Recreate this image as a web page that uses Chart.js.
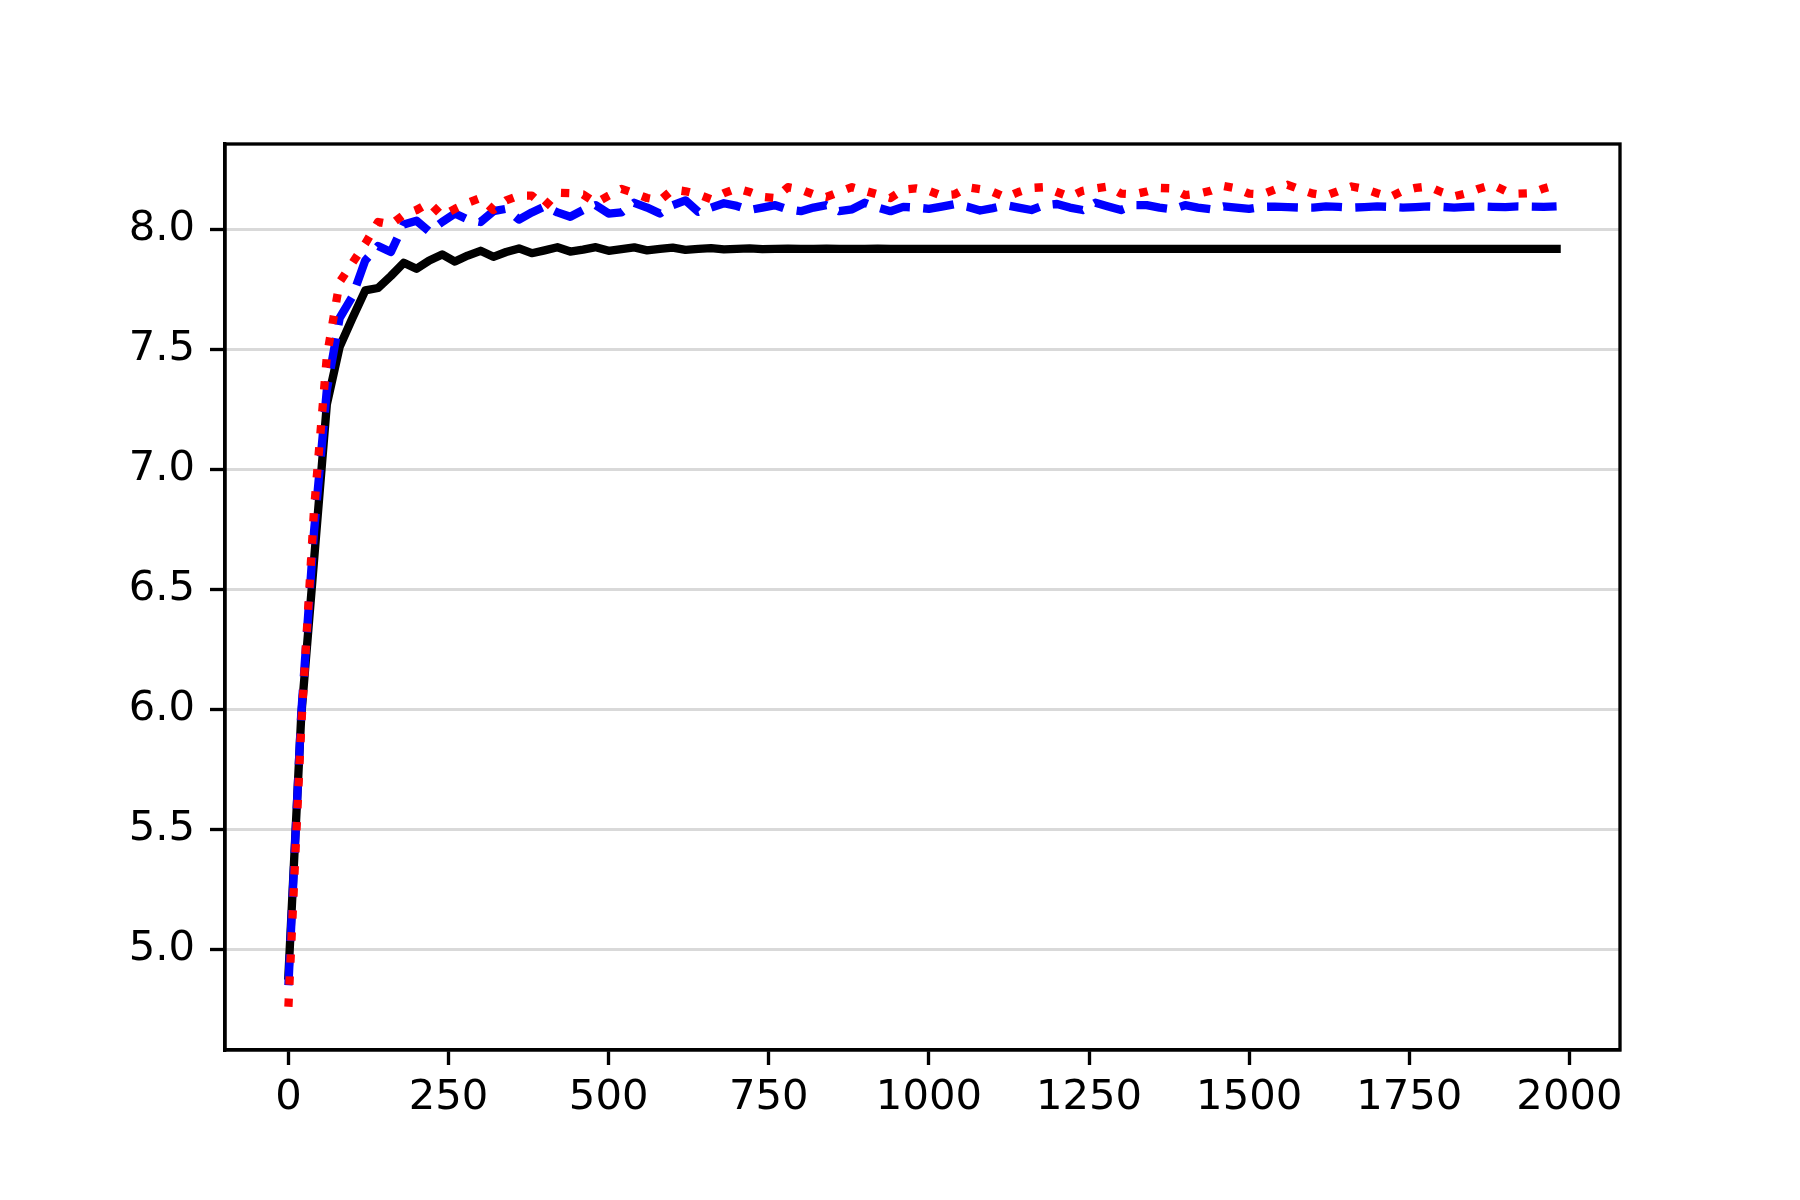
<!DOCTYPE html>
<html>
<head>
<meta charset="utf-8">
<title>chart</title>
<script src="https://cdn.jsdelivr.net/npm/chart.js@4.4.1/dist/chart.umd.min.js"></script>
<style>
  html, body { margin: 0; padding: 0; background: #fff; }
  #chart { display: block; }
</style>
</head>
<body>
<canvas id="chart" width="1800" height="1200"></canvas>
<script>
const steps = [
    0, 20, 40, 60, 80, 100, 120, 140, 160, 180,
    200, 220, 240, 260, 280, 300, 320, 340, 360, 380,
    400, 420, 440, 460, 480, 500, 520, 540, 560, 580,
    600, 620, 640, 660, 680, 700, 720, 740, 760, 780,
    800, 820, 840, 860, 880, 900, 920, 940, 960, 980,
    1000, 1020, 1040, 1060, 1080, 1100, 1120, 1140, 1160, 1180,
    1200, 1220, 1240, 1260, 1280, 1300, 1320, 1340, 1360, 1380,
    1400, 1420, 1440, 1460, 1480, 1500, 1520, 1540, 1560, 1580,
    1600, 1620, 1640, 1660, 1680, 1700, 1720, 1740, 1760, 1780,
    1800, 1820, 1840, 1860, 1880, 1900, 1920, 1940, 1960, 1980
];

const blackValues = [
    4.89, 5.97, 6.62, 7.27, 7.51, 7.63, 7.745, 7.755, 7.805, 7.86,
    7.835, 7.87, 7.895, 7.865, 7.89, 7.91, 7.885, 7.905, 7.92, 7.90,
    7.912, 7.925, 7.907, 7.915, 7.925, 7.91, 7.917, 7.924, 7.912, 7.918,
    7.923, 7.914, 7.918, 7.921, 7.916, 7.918, 7.92, 7.917, 7.918, 7.919,
    7.918, 7.918, 7.919, 7.918, 7.918, 7.918, 7.919, 7.918, 7.918, 7.918,
    7.918, 7.918, 7.918, 7.918, 7.918, 7.918, 7.918, 7.918, 7.918, 7.918,
    7.918, 7.918, 7.918, 7.918, 7.918, 7.918, 7.918, 7.918, 7.918, 7.918,
    7.918, 7.918, 7.918, 7.918, 7.918, 7.918, 7.918, 7.918, 7.918, 7.918,
    7.918, 7.918, 7.918, 7.918, 7.918, 7.918, 7.918, 7.918, 7.918, 7.918,
    7.918, 7.918, 7.918, 7.918, 7.918, 7.918, 7.918, 7.918, 7.918, 7.918
];

const blueValues = [
    4.85, 5.98, 6.74, 7.33, 7.63, 7.72, 7.87, 7.93, 7.905, 8.02,
    8.035, 7.99, 8.03, 8.065, 8.04, 8.03, 8.075, 8.085, 8.04, 8.07,
    8.095, 8.07, 8.052, 8.08, 8.10, 8.065, 8.07, 8.11, 8.09, 8.065,
    8.10, 8.12, 8.072, 8.09, 8.108, 8.097, 8.08, 8.09, 8.10, 8.082,
    8.075, 8.09, 8.10, 8.075, 8.083, 8.11, 8.09, 8.075, 8.093, 8.09,
    8.085, 8.094, 8.104, 8.094, 8.078, 8.088, 8.10, 8.09, 8.08, 8.10,
    8.105, 8.09, 8.08, 8.11, 8.095, 8.08, 8.10, 8.10, 8.09, 8.083,
    8.10, 8.09, 8.083, 8.095, 8.09, 8.085, 8.093, 8.094, 8.092, 8.09,
    8.09, 8.095, 8.093, 8.09, 8.092, 8.095, 8.093, 8.09, 8.092, 8.095,
    8.093, 8.09, 8.093, 8.095, 8.093, 8.092, 8.095, 8.094, 8.093, 8.095
];

const redValues = [
    4.76, 5.93, 6.83, 7.47, 7.78, 7.86, 7.94, 8.03, 8.02, 8.06,
    8.08, 8.11, 8.056, 8.085, 8.11, 8.13, 8.08, 8.12, 8.14, 8.14,
    8.094, 8.152, 8.15, 8.145, 8.11, 8.14, 8.168, 8.15, 8.13, 8.12,
    8.165, 8.158, 8.145, 8.125, 8.15, 8.17, 8.155, 8.135, 8.13, 8.175,
    8.165, 8.145, 8.135, 8.155, 8.175, 8.16, 8.145, 8.13, 8.165, 8.17,
    8.16, 8.14, 8.145, 8.175, 8.167, 8.155, 8.132, 8.155, 8.172, 8.175,
    8.155, 8.135, 8.16, 8.17, 8.178, 8.148, 8.145, 8.157, 8.172, 8.17,
    8.142, 8.148, 8.16, 8.18, 8.17, 8.148, 8.145, 8.165, 8.185, 8.165,
    8.148, 8.14, 8.16, 8.178, 8.168, 8.15, 8.134, 8.16, 8.172, 8.178,
    8.155, 8.137, 8.15, 8.17, 8.185, 8.16, 8.148, 8.15, 8.17, 8.185
];

const xTicks = [0, 250, 500, 750, 1000, 1250, 1500, 1750, 2000];
const yTicks = [5.0, 5.5, 6.0, 6.5, 7.0, 7.5, 8.0];

// matplotlib style sizes at 300 dpi
const PT = 300 / 72;
const LW = 2 * PT;

const framePlugin = {
    id: 'frame',
    afterDatasetsDraw(chart) {
        const a = chart.chartArea;
        const ctx = chart.ctx;
        ctx.save();
        ctx.strokeStyle = '#000';
        ctx.lineWidth = 0.8 * PT;
        ctx.strokeRect(a.left, a.top, a.right - a.left, a.bottom - a.top);
        ctx.restore();
    }
};

function toPoints(values) {
    return steps.map((s, i) => ({ x: s, y: values[i] }));
}

document.addEventListener('DOMContentLoaded', function() {
    const canvas = document.getElementById('chart');

    new Chart(canvas, {
        type: 'line',
        data: {
            datasets: [
                {
                    label: 'red',
                    data: toPoints(redValues),
                    borderColor: '#ff0000',
                    borderWidth: LW,
                    borderDash: [1 * LW, 1.65 * LW],
                    borderCapStyle: 'butt',
                    borderJoinStyle: 'round',
                    order: 1
                },
                {
                    label: 'blue',
                    data: toPoints(blueValues),
                    borderColor: '#0000ff',
                    borderWidth: LW,
                    borderDash: [3.7 * LW, 1.6 * LW],
                    borderCapStyle: 'butt',
                    borderJoinStyle: 'round',
                    order: 2
                },
                {
                    label: 'black',
                    data: toPoints(blackValues),
                    borderColor: '#000000',
                    borderWidth: LW,
                    borderCapStyle: 'square',
                    borderJoinStyle: 'round',
                    order: 3
                }
            ]
        },
        options: {
            responsive: false,
            animation: false,
            devicePixelRatio: 1,
            layout: { padding: { top: 144, right: 180, left: 0, bottom: 0 } },
            elements: {
                point: { radius: 0 },
                line: { tension: 0, fill: false }
            },
            plugins: {
                legend: { display: false },
                tooltip: { enabled: false }
            },
            scales: {
                x: {
                    type: 'linear',
                    min: -99,
                    max: 2079,
                    afterBuildTicks: function(scale) {
                        scale.ticks = xTicks.map(v => ({ value: v }));
                    },
                    afterFit: function(scale) {
                        scale.height = 150;
                    },
                    grid: {
                        drawOnChartArea: false,
                        drawTicks: true,
                        tickLength: 15,
                        tickWidth: 0.8 * PT,
                        tickColor: '#000'
                    },
                    border: { display: true, color: '#000', width: 0.8 * PT },
                    ticks: {
                        color: '#000',
                        font: { family: 'DejaVu Sans', size: 41.7 },
                        padding: 8,
                        maxRotation: 0,
                        autoSkip: false,
                        callback: v => String(v)
                    }
                },
                y: {
                    type: 'linear',
                    min: 4.58,
                    max: 8.355,
                    afterBuildTicks: function(scale) {
                        scale.ticks = yTicks.map(v => ({ value: v }));
                    },
                    afterFit: function(scale) {
                        scale.width = 225;
                    },
                    grid: {
                        color: '#d9d9d9',
                        lineWidth: 3,
                        drawTicks: true,
                        tickLength: 15,
                        tickWidth: 0.8 * PT,
                        tickColor: '#000'
                    },
                    border: { display: true, color: '#000', width: 0.8 * PT },
                    ticks: {
                        color: '#000',
                        font: { family: 'DejaVu Sans', size: 41.7 },
                        padding: 15,
                        callback: v => Number(v).toFixed(1)
                    }
                }
            }
        },
        plugins: [framePlugin]
    });
});
</script>
</body>
</html>
